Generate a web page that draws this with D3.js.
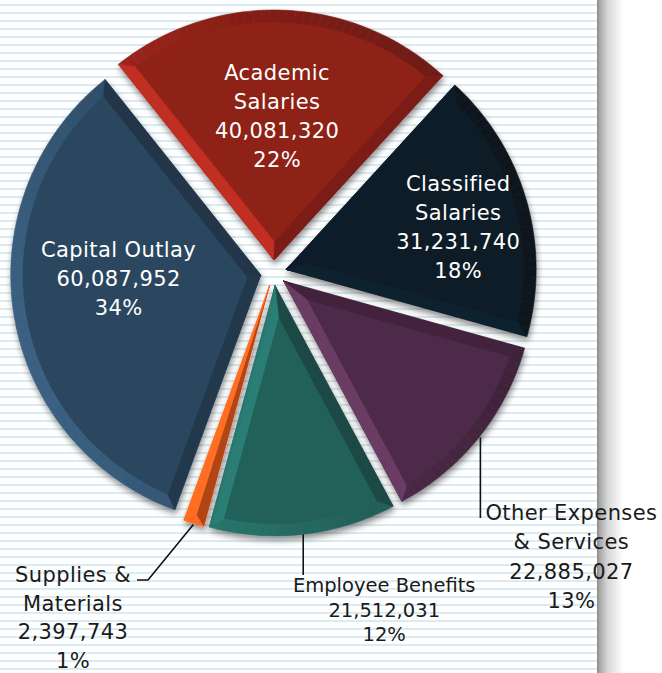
<!DOCTYPE html>
<html><head><meta charset="utf-8">
<script src="https://cdn.jsdelivr.net/npm/d3@7"></script>
<style>html,body{margin:0;padding:0;background:#fff;overflow:hidden}svg{display:block}</style>
</head><body>
<svg id="chart" width="662" height="673"></svg>
<script>
// ---- data ----
const categories = ["Academic Salaries","Classified Salaries","Other Expenses & Services","Employee Benefits","Supplies & Materials","Capital Outlay"];
const labelLines = [["Academic","Salaries"],["Classified","Salaries"],["Other Expenses","& Services"],["Employee Benefits"],["Supplies &","Materials"],["Capital Outlay"]];
const values = [40081320,31231740,22885027,21512031,2397743,60087952];
const colors = ["#8e2119","#0e1b26","#4e2b48","#22615a","#e0561a","#2a465e"];

// ---- layout ----
const W=662,H=673, cx=273.6, cy=273, R=250, explode=13, bevel=12;
const rad = d => d*Math.PI/180;
const start = rad(-38.5);
const lightDir = rad(250);
const svg = d3.select("#chart");

// background ruled lines
const bg = svg.append("g");
bg.selectAll("rect").data(d3.range(4, H, 8)).join("rect")
  .attr("x",0).attr("y",d=>d).attr("width",598).attr("height",2).attr("fill","#d8ecf2");
const defs = svg.append("defs");
const gb = defs.append("linearGradient").attr("id","bar").attr("x1","0").attr("x2","1").attr("y1","0").attr("y2","0");
[[0,"#8a8a8a"],[0.1,"#a6a6a6"],[0.4,"#d6d6d6"],[1,"#ffffff"]].forEach(s=>gb.append("stop").attr("offset",s[0]).attr("stop-color",s[1]));
svg.append("rect").attr("x",597).attr("y",0).attr("width",26).attr("height",H).attr("fill","url(#bar)");

const f = defs.append("filter").attr("id","sh").attr("x","-20%").attr("y","-20%").attr("width","140%").attr("height","140%");
f.append("feDropShadow").attr("dx",1).attr("dy",4).attr("stdDeviation",3).attr("flood-color","#000").attr("flood-opacity",0.45);

const pie = d3.pie().sort(null).value(d=>d).startAngle(start).endAngle(start+2*Math.PI);
const arcs = pie(values);
const total = d3.sum(values);
const fmtN = d3.format(","), fmtP = d3.format(".0%");

const pt = (o, a, r) => [o[0] + r*Math.sin(a), o[1] - r*Math.cos(a)];
function shade(base, normal){
  const k = Math.cos(normal - lightDir);
  const c = d3.color(base);
  return (k>0 ? c.brighter(k*0.9) : c.darker(-k*0.8)).formatHex();
}
const line = d3.line();

const slices = svg.append("g");
arcs.forEach((a,i)=>{
  const mid = (a.startAngle+a.endAngle)/2;
  const A = pt([cx,cy], mid, explode);
  a.apex = A; a.mid = mid;
  const g = slices.append("g").attr("filter","url(#sh)");
  const base = colors[i];
  const steps = Math.max(2, Math.ceil((a.endAngle-a.startAngle)/rad(2)));
  const sub = d3.range(steps).map(k=>[a.startAngle+(a.endAngle-a.startAngle)*k/steps, a.startAngle+(a.endAngle-a.startAngle)*(k+1)/steps]);
  g.selectAll("path.band").data(sub).join("path").attr("class","band")
    .attr("d", s => { const p=d3.path(); p.moveTo(A[0],A[1]); p.arc(A[0],A[1],R,s[0]-Math.PI/2,s[1]-Math.PI/2); p.closePath(); return p.toString(); })
    .attr("fill", s=>shade(base,(s[0]+s[1])/2)).attr("stroke", s=>shade(base,(s[0]+s[1])/2)).attr("stroke-width",0.6);
  const half = (a.endAngle-a.startAngle)/2;
  const n0 = a.startAngle - Math.PI/2, n1 = a.endAngle + Math.PI/2;
  if (bevel/Math.sin(half) < R*0.6) {
    const Ai = pt(A, mid, bevel/Math.sin(half));
    const dl = Math.asin(bevel/(R-bevel));
    const P0 = pt(A,a.startAngle,R), P1 = pt(A,a.endAngle,R);
    const Q0 = pt(A,a.startAngle+dl,R-bevel), Q1 = pt(A,a.endAngle-dl,R-bevel);
    g.append("path").attr("d", line([A,P0,Q0,Ai])+"Z").attr("fill",shade(base,n0)).attr("stroke",shade(base,n0)).attr("stroke-width",0.5);
    g.append("path").attr("d", line([A,P1,Q1,Ai])+"Z").attr("fill",shade(base,n1)).attr("stroke",shade(base,n1)).attr("stroke-width",0.5);
    const p = d3.path(); p.moveTo(Ai[0],Ai[1]); p.lineTo(Q0[0],Q0[1]);
    p.arc(A[0],A[1],R-bevel,a.startAngle+dl-Math.PI/2,a.endAngle-dl-Math.PI/2); p.closePath();
    g.append("path").attr("d",p.toString()).attr("fill",base);
  } else {
    const P0 = pt(A,a.startAngle,R), P1 = pt(A,a.endAngle,R), M = pt(A,mid,R-bevel*0.8);
    g.append("path").attr("d", line([A,P0,M])+"Z").attr("fill",shade(base,n0));
    g.append("path").attr("d", line([A,P1,M])+"Z").attr("fill",shade(base,n1));
  }
});

// ---- labels ----
const font = "'DejaVu Sans', sans-serif";
const lbl = svg.append("g").attr("font-family",font);
function textBlock(x, y0, lines, size, lh, fill, ls){
  const t = lbl.append("text").attr("text-anchor","middle").attr("font-size",size).attr("fill",fill).attr("letter-spacing",ls==null?0.4:ls);
  lines.forEach((s,k)=>t.append("tspan").attr("x",x).attr("y",y0+k*lh).text(s));
}
const linesFor = i => labelLines[i].concat([fmtN(values[i]), fmtP(values[i]/total)]);

// inside labels: [index, radius from apex, dx, dy]
[[0,145,-2,1],[1,177,2,6],[5,142,-2,-19]].forEach(([i,r,dx,dy])=>{
  const a = arcs[i];
  const c = pt(a.apex, a.mid, r);
  const ls = linesFor(i), lh = 29;
  textBlock(c[0]+dx, c[1]+dy - (ls.length-1)*lh/2 + 7.5, ls, 21, lh, "#ffffff");
});

// outside labels with leaders
const lead = svg.append("g").attr("stroke","#111").attr("stroke-width",1.6).attr("fill","none");
{ // Other Expenses
  const a = arcs[2], s = pt(a.apex,a.mid,R), e=[s[0]+1.5, 518];
  lead.append("path").attr("d", line([[e[0],s[1]],e]));
  textBlock(e[0]+91, e[1]+2, linesFor(2), 21, 29.3, "#1a1a1a");
}
{ // Employee Benefits
  const a = arcs[3], s = pt(a.apex,a.mid,R), e=[s[0], 575];
  lead.append("path").attr("d", line([s,e]));
  textBlock(e[0]+81, e[1]+17, linesFor(3), 19.5, 24.5, "#1a1a1a", 0);
}
{ // Supplies & Materials
  const a = arcs[4], s = pt(a.apex,a.mid,R+1), m=[148,580], e=[137,580];
  lead.append("path").attr("d", line([s,m,e]));
  textBlock(e[0]-64, e[1]+2, linesFor(4), 21, 28.5, "#1a1a1a");
}
</script>
</body></html>
